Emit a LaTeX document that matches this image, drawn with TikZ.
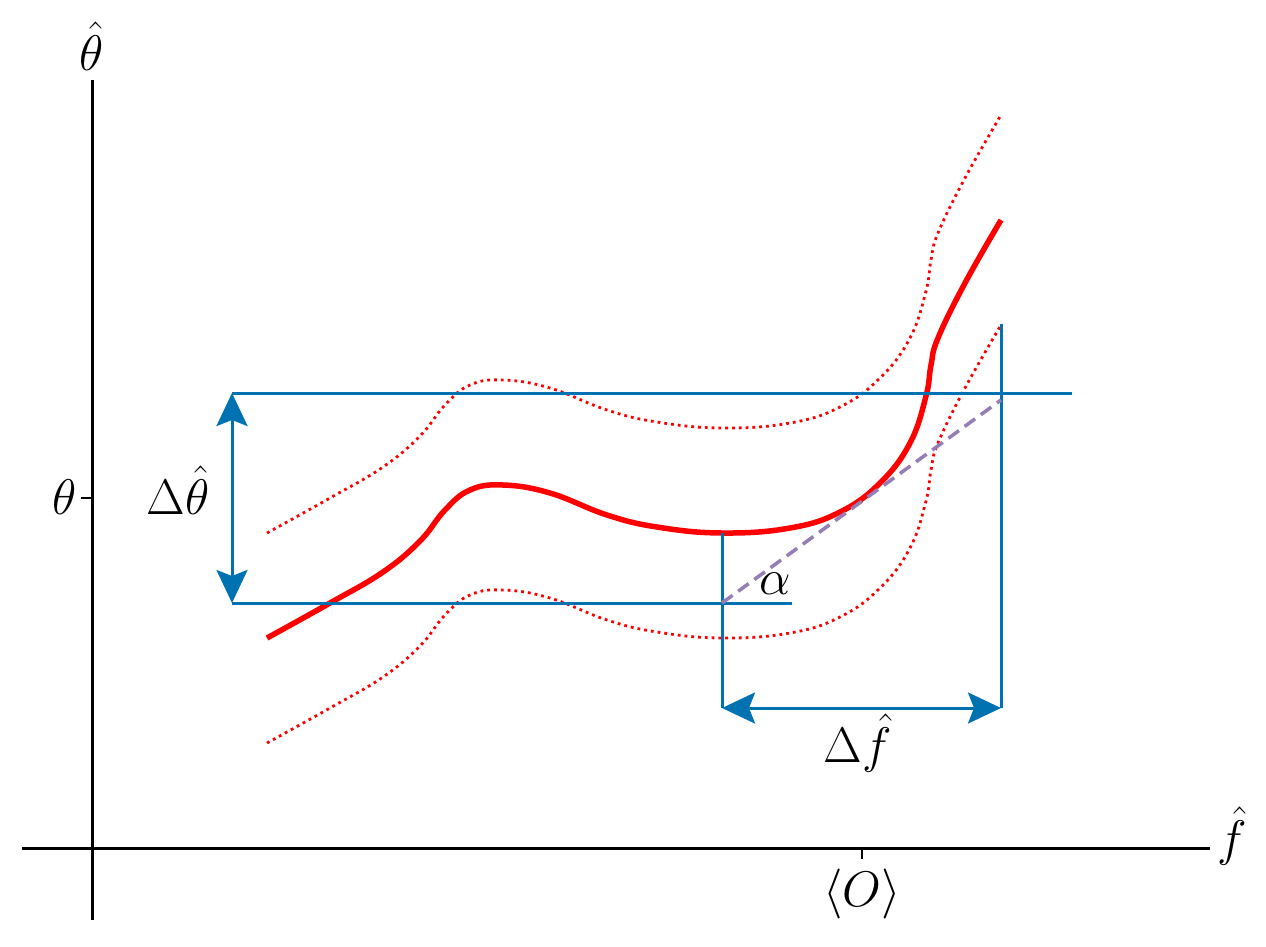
\RequirePackage{fix-cm}
\documentclass[tikz,border=0pt]{standalone}
\usetikzlibrary{arrows.meta}
\definecolor{cblue}{HTML}{0072B2}
\definecolor{cpurple}{HTML}{957DB5}
\definecolor{cred}{HTML}{FF0000}
\begin{document}
\begin{tikzpicture}[x=1pt,y=-1pt,
  lbl/.style={inner sep=0pt,font=\fontsize{50}{58}\selectfont},
  axisline/.style={black,line width=3pt},
  tickline/.style={black,line width=2.6pt},
  guide/.style={cblue,line width=3pt},
  dimarrow/.style={cblue,line width=3pt,{Stealth[length=33pt,width=31pt,inset=6pt]}-{Stealth[length=33pt,width=31pt,inset=6pt]}},
  mean/.style={cred,line width=5.5pt},
  band/.style={cred,line width=2.8pt,dash pattern=on 2.8pt off 4pt},
  slope/.style={cpurple,line width=3.5pt,dash pattern=on 13pt off 7pt}]
\useasboundingbox (0,0) rectangle (1266,946);
\def\curvepts{(267,638) (330,603) (383,572) (420,541) (445,510) (470,490) (503,485) (550,493) (607,515) (657,527) (722,533) (790,528) (840,512) (880,483) (910,443) (926,396) (931,365) (938,338) (965,283) (1001,220)}
% axes
\coordinate (yb) at (92,920);
\coordinate (yt) at (92,80);
\coordinate (xl) at (22,848);
\coordinate (xr) at (1210,848);
\draw[axisline] (yb) -- (yt);
\draw[axisline] (xl) -- (xr);
\coordinate (t1a) at (81,498); \coordinate (t1b) at (92,498);
\coordinate (t2a) at (862,848); \coordinate (t2b) at (862,859);
\draw[tickline] (t1a) -- (t1b);
\draw[tickline] (t2a) -- (t2b);
% curves
\draw[mean] plot[smooth,tension=0.7] coordinates {\curvepts};
\begin{scope}[yshift=105pt]
\draw[band] plot[smooth,tension=0.7] coordinates {\curvepts};
\end{scope}
\begin{scope}[yshift=-105pt]
\draw[band] plot[smooth,tension=0.7] coordinates {\curvepts};
\end{scope}
% guides
\coordinate (ht1) at (232,393); \coordinate (ht2) at (1072,393);
\coordinate (hb1) at (232,603); \coordinate (hb2) at (792,603);
\coordinate (vl1) at (722,533); \coordinate (vl2) at (722,708);
\coordinate (vr1) at (1001,324); \coordinate (vr2) at (1001,708);
\draw[guide] (ht1) -- (ht2);
\draw[guide] (hb1) -- (hb2);
\draw[guide] (vl1) -- (vl2);
\draw[guide] (vr1) -- (vr2);
\draw[dimarrow] (hb1) -- (ht1);
\draw[dimarrow] (vl2) -- (vr2);
% slope
\coordinate (s1) at (722,603); \coordinate (s2) at (1001,400);
\draw[slope] (s1) -- (s2);
% labels
\node[lbl,anchor=base] (lthetahat) at (92,70) {$\hat\theta$};
\node[lbl,anchor=base] (ltheta) at (65,514) {$\theta$};
\node[lbl,anchor=base] (ldtheta) at (178,514) {$\Delta\hat\theta$};
\node[lbl,anchor=base] (lalpha) at (775,594) {$\alpha$};
\node[lbl,anchor=base] (ldf) at (858,762) {$\Delta\hat f$};
\node[lbl,anchor=base] (lO) at (862,906) {$\langle O\rangle$};
\node[lbl,anchor=base] (lf) at (1232,855) {$\hat f$};
\end{tikzpicture}
\end{document}
